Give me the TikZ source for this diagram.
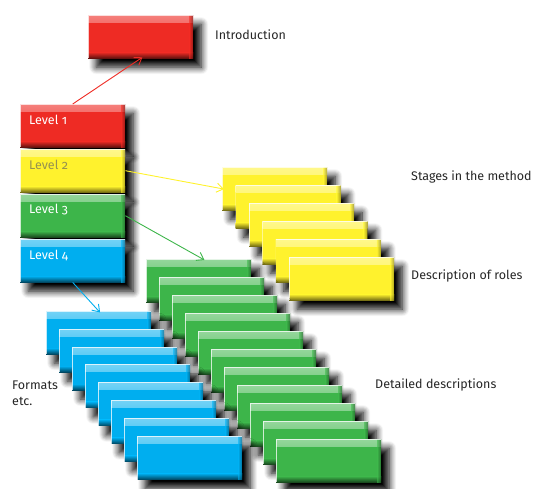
\documentclass[tikz,border=0pt]{standalone}
\usepackage{fontspec}
\setmainfont{Fira Sans}[Numbers=OldStyle]
\usetikzlibrary{arrows.meta,shadows.blur}

% base, light and dark tones of each box colour
\definecolor{redbase}{HTML}{EE2B24}
\definecolor{yellowbase}{HTML}{FFF22D}
\definecolor{greenbase}{HTML}{3DB54A}
\definecolor{bluebase}{HTML}{00AEEF}
\colorlet{redlight}{redbase!60!white}
\colorlet{yellowlight}{yellowbase!55!white}
\colorlet{greenlight}{greenbase!55!white}
\colorlet{bluelight}{bluebase!55!white}
\colorlet{reddark}{redbase!40!black}
\colorlet{yellowdark}{yellowbase!45!black}
\colorlet{greendark}{greenbase!40!black}
\colorlet{bluedark}{bluebase!40!black}
\definecolor{leveltwotext}{RGB}{150,146,80}

\tikzset{
  block/.style={
    rectangle, anchor=north west, inner sep=0pt,
    minimum width=105pt, minimum height=43pt,
    fill=#1base,
    blur shadow={shadow xshift=8pt, shadow yshift=-9pt,
                 shadow blur radius=7pt, shadow opacity=100,
                 shadow blur steps=8},
    path picture={
      % raised bevel: light top band, dark bottom band, dark right edge
      \shade[top color=#1light, bottom color=#1base]
        (path picture bounding box.north west) rectangle
        ([yshift=-7pt]path picture bounding box.north east);
      \shade[top color=#1base, bottom color=#1dark]
        ([yshift=6pt]path picture bounding box.south west) rectangle
        (path picture bounding box.south east);
      \shade[left color=#1base, right color=#1dark, opacity=0.6]
        ([xshift=-4pt]path picture bounding box.south east) rectangle
        (path picture bounding box.north east);
      \draw[white, opacity=0.75, line width=1pt]
        (path picture bounding box.south west) --
        (path picture bounding box.north west) --
        (path picture bounding box.north east);
    }
  },
  leveltext/.style={anchor=west, text=white, font=\fontsize{12.5}{14}\selectfont, inner sep=0pt},
  caption/.style={anchor=west, text=black!85, font=\fontsize{12.5}{16}\selectfont, inner sep=0pt, align=left},
  link/.style={line width=0.9pt, -{Straight Barb[angle=70:8pt]}, shorten >=-2pt}
}

\begin{document}
\begin{tikzpicture}[x=1pt, y=-1pt]
\useasboundingbox (0,0) rectangle (536,488);

% introduction block
\node[block=red] (intro) at (88,15) {};

% level column
\node[block=red]    (l1) at (20,104) {};
\node[block=yellow] (l2) at (20,149) {};
\node[block=green]  (l3) at (20,194) {};
\node[block=blue]   (l4) at (20,239) {};
\node[leveltext] (t1) at (29,120) {Level 1};
\node[leveltext, text=leveltwotext] (t2) at (29,165) {Level 2};
\node[leveltext] (t3) at (29,210) {Level 3};
\node[leveltext] (t4) at (29,255) {Level 4};

% stages in the method
\foreach \i in {0,...,5}
  \node[block=yellow] (y\i) at (222+13.4*\i, 167+18*\i) {};

% detailed descriptions
\foreach \i in {0,...,10}
  \node[block=green] (g\i) at (146+13*\i, 259+18*\i) {};

% formats
\foreach \i in {0,...,7}
  \node[block=blue] (b\i) at (46+13*\i, 311+17.9*\i) {};

% connectors
\draw[link, redbase]    (l1.north) -- (intro.south);
\draw[link, yellowbase] (l2.east)  -- (y0.west);
\draw[link, greenbase]  (l3.east)  -- ([xshift=4pt]g0.north);
\draw[link, bluebase]   (l4.south) -- (b0.north);

% captions
\node[caption] (capintro)  at (215,35)  {Introduction};
\node[caption] (capstages) at (411,177) {Stages in the method};
\node[caption] (caproles)  at (411,276) {Description of roles};
\node[caption] (capdetail) at (375,385) {Detailed descriptions};
\node[caption] (capformat) at (12,393)  {Formats\\etc.};
\end{tikzpicture}
\end{document}
